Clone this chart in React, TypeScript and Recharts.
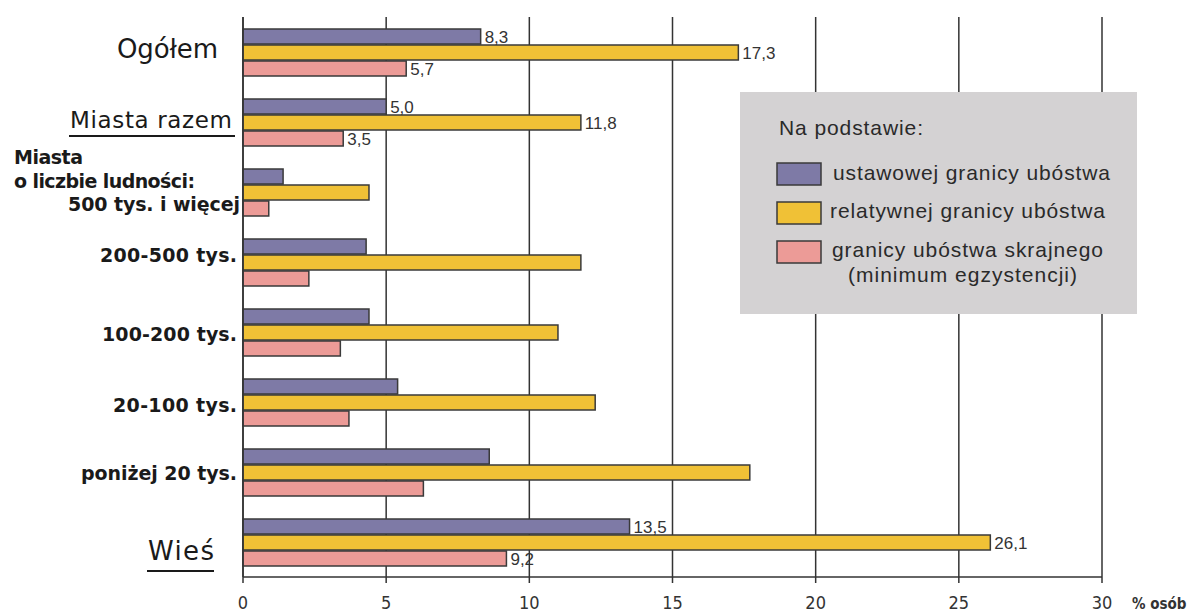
import React from "react";
import {
    BarChart,
    Bar,
    XAxis,
    YAxis,
    CartesianGrid,
    Legend,
    LabelList,
    Label
} from "recharts";

// categories (top to bottom)
const categories = [
    "Ogółem",
    "Miasta razem",
    "500 tys. i więcej",
    "200-500 tys.",
    "100-200 tys.",
    "20-100 tys.",
    "poniżej 20 tys.",
    "Wieś"
];

// % osób poniżej granicy ubóstwa
const ustawowa = [8.3, 5.0, 1.4, 4.3, 4.4, 5.4, 8.6, 13.5];
const relatywna = [17.3, 11.8, 4.4, 11.8, 11.0, 12.3, 17.7, 26.1];
const skrajna = [5.7, 3.5, 0.9, 2.3, 3.4, 3.7, 6.3, 9.2];

// only these groups carry value labels
const labeledCategories = ["Ogółem", "Miasta razem", "Wieś"];

const seriesNames = [
    "ustawowej granicy ubóstwa",
    "relatywnej granicy ubóstwa",
    "granicy ubóstwa skrajnego (minimum egzystencji)"
];
const seriesColors = ["#7e7aa6", "#f0c136", "#ec9b97"];
const xTicks = [0, 5, 10, 15, 20, 25, 30];

const fmt = (v: number) => v.toFixed(1).replace(".", ",");

const data = categories.map((name, i) => {
    const show = labeledCategories.includes(name);
    return {
        name,
        ustawowa: ustawowa[i],
        relatywna: relatywna[i],
        skrajna: skrajna[i],
        uLabel: show ? fmt(ustawowa[i]) : "",
        rLabel: show ? fmt(relatywna[i]) : "",
        sLabel: show ? fmt(skrajna[i]) : ""
    };
});

const STROKE = "#3a3a3a";
const SANS = "'Liberation Sans', Arial, sans-serif";
const VERD = "'DejaVu Sans', Verdana, sans-serif";
const NARROW = "'Liberation Sans Narrow', 'DejaVu Sans Condensed', 'Liberation Sans', sans-serif";

const YTick = (props: any) => {
    const { y, payload } = props;
    const v = payload.value;
    const bold = { fontFamily: VERD, fontWeight: 700, fontSize: 19, fill: "#1a1a1a" } as const;
    if (v === "Ogółem") {
        return (
            <text x={218} y={y + 6} textAnchor="end" fontFamily={VERD} fontSize={26} fill="#1a1a1a" textLength={101}>
                {v}
            </text>
        );
    }
    if (v === "Miasta razem") {
        return (
            <g>
                <text x={232} y={y + 6} textAnchor="end" fontFamily={VERD} fontSize={23} fill="#1a1a1a" textLength={162}>
                    {v}
                </text>
                <line x1={69} x2={235} y1={y + 14} y2={y + 14} stroke="#1a1a1a" strokeWidth={2.2} />
            </g>
        );
    }
    if (v === "Wieś") {
        return (
            <g>
                <text x={148} y={y + 18} fontFamily={VERD} fontSize={26} fill="#1a1a1a" textLength={66}>
                    {v}
                </text>
                <line x1={147} x2={214} y1={y + 29} y2={y + 29} stroke="#1a1a1a" strokeWidth={2.2} />
            </g>
        );
    }
    if (v === "500 tys. i więcej") {
        return (
            <g>
                <text x={14} y={y - 28} {...bold} textLength={69}>Miasta</text>
                <text x={14} y={y - 4} {...bold} textLength={181}>o liczbie ludności:</text>
                <text x={240} y={y + 19} textAnchor="end" {...bold} textLength={172}>{v}</text>
            </g>
        );
    }
    const widths: Record<string, number> = {
        "200-500 tys.": 137,
        "100-200 tys.": 135,
        "20-100 tys.": 124,
        "poniżej 20 tys.": 156
    };
    const dy: Record<string, number> = {
        "200-500 tys.": 0,
        "100-200 tys.": 9,
        "20-100 tys.": 10,
        "poniżej 20 tys.": 8
    };
    return (
        <text x={237} y={y + (dy[v] ?? 7)} textAnchor="end" {...bold} textLength={widths[v]}>
            {v}
        </text>
    );
};

const valueLabel = (props: any) => {
    const { x, y, width, height, value } = props;
    if (!value) return null;
    return (
        <text
            x={Number(x) + Number(width) + 4}
            y={Number(y) + Number(height) / 2 + 6}
            fontFamily={SANS}
            fontSize={17}
            fill="#333"
        >
            {value}
        </text>
    );
};

const renderLegend = (props: any) => {
    const payload = props.payload || [];
    const rows = [
        { sy: 163, by: 180, tx: 833, w: 277 },
        { sy: 202, by: 218, tx: 830, w: 275 },
        { sy: 241, by: 257, tx: 832, w: 271 }
    ];
    const ox = 740;
    const oy = 92;
    return (
        <svg width={397} height={222} style={{ display: "block" }}>
            <rect x={0} y={0} width={397} height={222} fill="#d4d2d3" />
            <text x={779 - ox} y={135 - oy} fontFamily={SANS} fontSize={21} fill="#2a2a2a" textLength={144}>
                Na podstawie:
            </text>
            {payload.map((entry: any) => {
                const name = String(entry.value);
                const i = seriesNames.indexOf(name);
                const r = rows[i];
                if (!r) return null;
                const parts = name.split(" (");
                return (
                    <g key={name}>
                        <rect
                            x={777 - ox}
                            y={r.sy - oy}
                            width={44}
                            height={22}
                            fill={seriesColors[i]}
                            stroke={STROKE}
                            strokeWidth={1.5}
                        />
                        <text x={r.tx - ox} y={r.by - oy} fontFamily={SANS} fontSize={21} fill="#2a2a2a" textLength={r.w}>
                            {parts[0]}
                        </text>
                        {parts[1] && (
                            <text x={848 - ox} y={282 - oy} fontFamily={SANS} fontSize={21} fill="#2a2a2a" textLength={229}>
                                {"(" + parts[1]}
                            </text>
                        )}
                    </g>
                );
            })}
        </svg>
    );
};

const unitLabel = (props: any) => {
    const vb = props.viewBox || {};
    return (
        <text
            x={Number(vb.x) + Number(vb.width) + 30}
            y={Number(vb.y) + 32}
            fontFamily={NARROW}
            fontWeight={700}
            fontSize={15}
            fill="#333"
        >
            % osób
        </text>
    );
};

const App: React.FC = () => {
    return (
        <div style={{ position: "absolute", left: 0, top: 0, width: 1199, height: 613, background: "#fff" }}>
            <BarChart
                width={1199}
                height={613}
                data={data}
                layout="vertical"
                margin={{ top: 17, right: 97, bottom: 0, left: 0 }}
                barSize={15}
                barGap={1}
            >
                <CartesianGrid horizontal={false} stroke="#333" strokeWidth={1.5} />
                <XAxis
                    type="number"
                    domain={[0, 30]}
                    ticks={xTicks}
                    height={36}
                    tickSize={6}
                    tickMargin={13}
                    axisLine={{ stroke: "#333", strokeWidth: 1.5 }}
                    tickLine={{ stroke: "#333", strokeWidth: 1.5 }}
                    tick={{ fill: "#333", fontSize: 18, fontFamily: NARROW }}
                    label={<Label content={unitLabel} />}
                />
                <YAxis
                    type="category"
                    dataKey="name"
                    width={243}
                    interval={0}
                    tickLine={false}
                    axisLine={{ stroke: "#333", strokeWidth: 1.5 }}
                    tick={(p: any) => <YTick {...p} />}
                />
                <Legend
                    layout="horizontal"
                    verticalAlign="middle"
                    align="center"
                    content={renderLegend}
                    wrapperStyle={{ left: 740, top: 92, width: 397, height: 222 }}
                />
                <Bar
                    dataKey="ustawowa"
                    name={seriesNames[0]}
                    fill={seriesColors[0]}
                    stroke={STROKE}
                    strokeWidth={1.5}
                    isAnimationActive={false}
                >
                    <LabelList dataKey="uLabel" content={valueLabel} />
                </Bar>
                <Bar
                    dataKey="relatywna"
                    name={seriesNames[1]}
                    fill={seriesColors[1]}
                    stroke={STROKE}
                    strokeWidth={1.5}
                    isAnimationActive={false}
                >
                    <LabelList dataKey="rLabel" content={valueLabel} />
                </Bar>
                <Bar
                    dataKey="skrajna"
                    name={seriesNames[2]}
                    fill={seriesColors[2]}
                    stroke={STROKE}
                    strokeWidth={1.5}
                    isAnimationActive={false}
                >
                    <LabelList dataKey="sLabel" content={valueLabel} />
                </Bar>
            </BarChart>
        </div>
    );
};

export default App;
